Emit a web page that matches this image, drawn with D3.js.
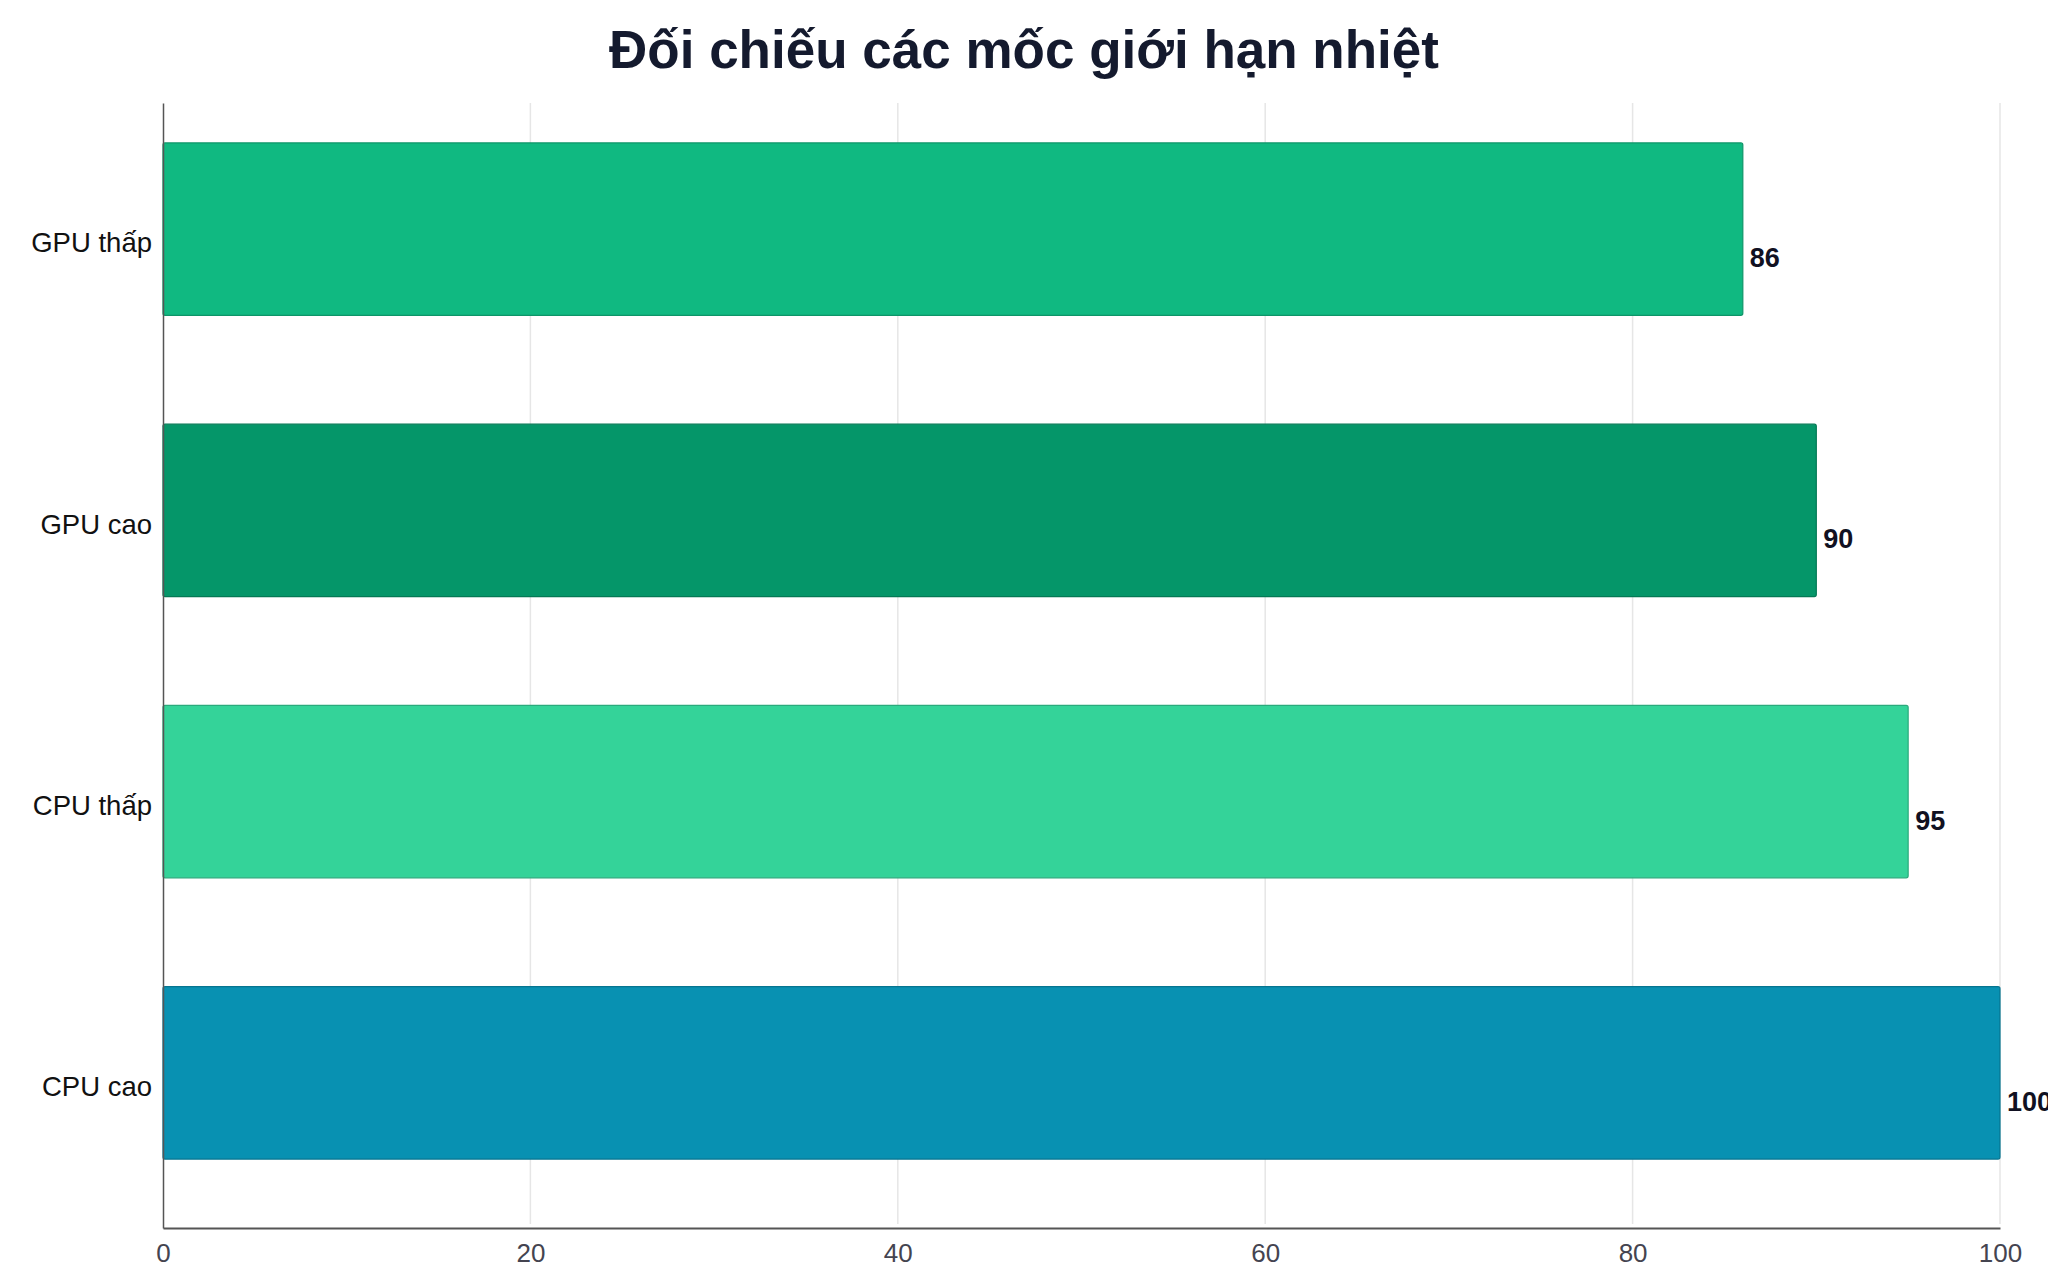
<!DOCTYPE html>
<html>
<head>
<meta charset="utf-8">
<script src="https://cdn.jsdelivr.net/npm/d3@7"></script>
<style>
  html, body { margin: 0; padding: 0; background: #ffffff; }
  svg { display: block; }
</style>
</head>
<body>
<svg id="chart" width="2048" height="1280"></svg>
<script>
const titleText = "Đối chiếu các mốc giới hạn nhiệt";
const categories = ["GPU thấp", "GPU cao", "CPU thấp", "CPU cao"];
const values = [86, 90, 95, 100];
const barColors = ["#10b981", "#059669", "#34d399", "#0891b2"];
const xTicks = [0, 20, 40, 60, 80, 100];

const W = 2048, H = 1280;
const margin = { top: 103, right: 48, bottom: 52, left: 163 };
const svg = d3.select("#chart");
const font = "'Liberation Sans', Arial, Helvetica, sans-serif";

const x = d3.scaleLinear().domain([0, 100]).range([margin.left, W - margin.right]);
const y = d3.scaleBand().domain(categories)
  .range([margin.top, H - margin.bottom])
  .paddingInner(0.387).paddingOuter(0.1935);

// title
svg.append("text")
  .attr("x", W / 2).attr("y", 68)
  .attr("text-anchor", "middle")
  .attr("font-family", font).attr("font-weight", "bold")
  .attr("font-size", 53).attr("fill", "#141a2e")
  .text(titleText);

// grid
svg.append("g").selectAll("line").data(xTicks.filter(t => t > 0)).join("line")
  .attr("x1", d => x(d)).attr("x2", d => x(d))
  .attr("y1", margin.top).attr("y2", H - margin.bottom - 4)
  .attr("stroke", "#e6e6e6").attr("stroke-width", 1.5);

// bars
const shift = -14.5;
svg.append("g").selectAll("rect").data(categories).join("rect")
  .attr("x", x(0))
  .attr("y", d => y(d) + shift)
  .attr("width", (d, i) => x(values[i]) - x(0))
  .attr("height", y.bandwidth())
  .attr("rx", 2)
  .attr("fill", (d, i) => barColors[i])
  .attr("stroke", (d, i) => d3.color(barColors[i]).darker(0.6))
  .attr("stroke-width", 1.2);

// value labels
svg.append("g").selectAll("text").data(categories).join("text")
  .attr("x", (d, i) => x(values[i]) + 7)
  .attr("y", d => y(d) + y.bandwidth() / 2 + 14)
  .attr("dy", "0.35em")
  .attr("font-family", font).attr("font-weight", "bold")
  .attr("font-size", 27).attr("fill", "#111122")
  .text((d, i) => values[i]);

// x axis
const xAxis = svg.append("g")
  .attr("transform", `translate(0,${H - margin.bottom})`)
  .call(d3.axisBottom(x).tickValues(xTicks).tickSize(0).tickPadding(16));
xAxis.select(".domain").attr("stroke", "#555555").attr("stroke-width", 2);
xAxis.selectAll("text")
  .attr("font-family", font).attr("font-size", 26).attr("fill", "#444450");

// y axis
const yAxis = svg.append("g")
  .attr("transform", `translate(${margin.left},0)`)
  .call(d3.axisLeft(y).tickSize(0).tickPadding(11));
yAxis.select(".domain").attr("stroke", "#555555").attr("stroke-width", 1.5);
yAxis.selectAll("text")
  .attr("font-family", font).attr("font-size", 27.5).attr("fill", "#111111");
</script>
</body>
</html>
